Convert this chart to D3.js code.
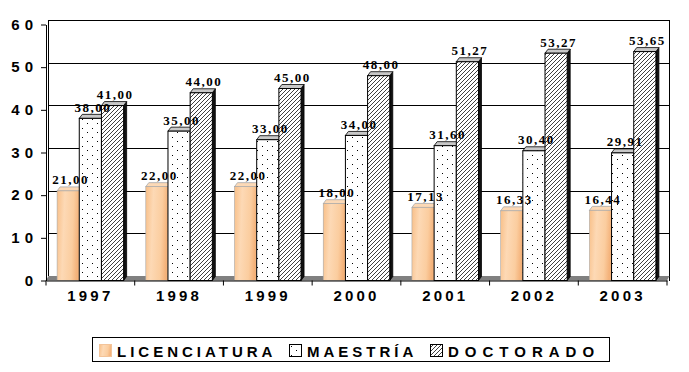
<!DOCTYPE html>
<meta charset="utf-8">
<title>Licenciatura, maestría y doctorado 1997-2003</title>
<script src="https://d3js.org/d3.v7.min.js"></script>

<style>
  body {
    margin: 0;
    background-color: #fff;
  }

  .tick-label {
    font: bold 15px "Liberation Sans", Arial, sans-serif;
    fill: #000;
  }

  .value-label {
    font: bold 13px "Liberation Serif", "Times New Roman", serif;
    letter-spacing: 1.5px;
    fill: #000;
  }

  .legend-label {
    font: bold 15px "Liberation Sans", Arial, sans-serif;
    fill: #000;
  }
</style>

<body>
  <svg width="689" height="372"></svg>
</body>

<script>
  // data
  var years = ["1997", "1998", "1999", "2000", "2001", "2002", "2003"];
  var licenciatura = [21, 22, 22, 18, 17.13, 16.33, 16.44];
  var maestria = [38, 35, 33, 34, 31.6, 30.4, 29.91];
  var doctorado = [41, 44, 45, 48, 51.27, 53.27, 53.65];
  var seriesNames = ["LICENCIATURA", "MAESTRÍA", "DOCTORADO"];
  var yTicks = [0, 10, 20, 30, 40, 50, 60];

  var series = [licenciatura, maestria, doctorado];

  var svg = d3.select("svg"),
    pLeft = 46, pRight = 667, pTop = 24.5, pBottom = 280.5,
    wallDx = 2.5, wallDy = 4.5,  // back wall offset
    barDx = 3, barDy = 4;        // bar depth

  var x = d3.scaleBand().domain(years).range([pLeft, pRight]);
  var y = d3.scaleLinear().domain([0, 60]).range([pBottom, pTop]);

  var bw = x.bandwidth() * 0.25,
    groupOff = x.bandwidth() * 0.125;

  var fmt = function (v) { return d3.format(".2f")(v).replace(".", ","); };

  // patterns & gradient
  var defs = svg.append("defs");

  var grad = defs.append("linearGradient").attr("id", "peach")
    .attr("x1", 0).attr("x2", 1).attr("y1", 0).attr("y2", 0.15);
  grad.append("stop").attr("offset", "0%").attr("stop-color", "#f8bf88");
  grad.append("stop").attr("offset", "35%").attr("stop-color", "#fdd9b5");
  grad.append("stop").attr("offset", "75%").attr("stop-color", "#fbcd9f");
  grad.append("stop").attr("offset", "100%").attr("stop-color", "#f4b27a");

  var dots = defs.append("pattern").attr("id", "dots")
    .attr("patternUnits", "userSpaceOnUse").attr("width", 10).attr("height", 9);
  dots.append("rect").attr("width", 10).attr("height", 9).attr("fill", "#fff");
  dots.append("rect").attr("x", 2).attr("y", 2).attr("width", 1).attr("height", 1).attr("fill", "#000");
  dots.append("rect").attr("x", 7).attr("y", 6).attr("width", 1).attr("height", 1).attr("fill", "#000");

  var hatch = defs.append("pattern").attr("id", "hatch")
    .attr("patternUnits", "userSpaceOnUse").attr("width", 4).attr("height", 4);
  hatch.append("rect").attr("width", 4).attr("height", 4).attr("fill", "#fff");
  hatch.append("path").attr("d", "M-1,1 l2,-2 M0,4 l4,-4 M3,5 l2,-2")
    .attr("stroke", "#000").attr("stroke-width", 0.75);

  var faces = [
    { front: "url(#peach)", cap: "#fcd9b6", side: "#f0ad78", stroke: "#a8a8a8" },
    { front: "url(#dots)", cap: "#c8c8c8", side: "#fff", stroke: "#000" },
    { front: "url(#hatch)", cap: "#c8c8c8", side: "#111", stroke: "#000" }
  ];

  // back wall gridlines
  svg.append("g").selectAll("line")
    .data(yTicks.filter(function (t) { return t > 0; }))
    .enter().append("line")
    .attr("x1", pLeft + wallDx).attr("x2", pRight + wallDx)
    .attr("y1", function (d) { return Math.round(y(d) - wallDy) + 0.5; })
    .attr("y2", function (d) { return Math.round(y(d) - wallDy) + 0.5; })
    .attr("stroke", "#000").attr("shape-rendering", "crispEdges");

  svg.append("line")
    .attr("x1", pLeft + wallDx).attr("x2", pLeft + wallDx)
    .attr("y1", pTop - wallDy).attr("y2", pBottom - wallDy)
    .attr("stroke", "#000").attr("shape-rendering", "crispEdges");
  svg.append("line")
    .attr("x1", pRight + wallDx).attr("x2", pRight + wallDx)
    .attr("y1", pTop - wallDy).attr("y2", pBottom)
    .attr("stroke", "#000").attr("shape-rendering", "crispEdges");

  // floor
  svg.append("polygon")
    .attr("points", [[pLeft, pBottom], [pLeft + wallDx, pBottom - wallDy],
    [pRight + wallDx, pBottom - wallDy], [pRight, pBottom]].join(" "))
    .attr("fill", "#808080");

  // bars
  var bars = [];
  years.forEach(function (yr, i) {
    series.forEach(function (s, k) {
      bars.push({ year: yr, k: k, value: s[i], x0: x(yr) + groupOff + k * bw });
    });
  });

  var bar = svg.append("g").selectAll("g")
    .data(bars)
    .enter().append("g");

  bar.append("polygon")
    .attr("points", function (d) {
      var x0 = d.x0 + bw, y0 = y(d.value);
      return [[x0, y0], [x0 + barDx, y0 - barDy], [x0 + barDx, pBottom - barDy], [x0, pBottom]].join(" ");
    })
    .attr("fill", function (d) { return faces[d.k].side; })
    .attr("stroke", function (d) { return faces[d.k].stroke; })
    .attr("stroke-width", 0.8);

  bar.append("polygon")
    .attr("points", function (d) {
      var y0 = y(d.value);
      return [[d.x0, y0], [d.x0 + barDx, y0 - barDy], [d.x0 + bw + barDx, y0 - barDy], [d.x0 + bw, y0]].join(" ");
    })
    .attr("fill", function (d) { return faces[d.k].cap; })
    .attr("stroke", function (d) { return faces[d.k].stroke; })
    .attr("stroke-width", 0.8);

  bar.append("rect")
    .attr("x", function (d) { return d.x0; })
    .attr("y", function (d) { return y(d.value); })
    .attr("width", bw)
    .attr("height", function (d) { return pBottom - y(d.value); })
    .attr("fill", function (d) { return faces[d.k].front; })
    .attr("stroke", function (d) { return faces[d.k].stroke; })
    .attr("stroke-width", function (d) { return d.k === 0 ? 0.6 : 1; });

  // axes
  var yAxis = svg.append("g")
    .attr("transform", "translate(" + pLeft + ",0)")
    .call(d3.axisLeft(y).tickValues(yTicks).tickSize(5).tickSizeOuter(0).tickPadding(3)
      .tickFormat(d3.format("d")));
  yAxis.selectAll("text").attr("class", "tick-label").style("letter-spacing", "5px");
  yAxis.selectAll("line,path").attr("stroke", "#000");
  yAxis.attr("font-size", null).attr("font-family", null);

  var xAxis = svg.append("g")
    .attr("transform", "translate(0," + pBottom + ")")
    .call(d3.axisBottom(x).tickSize(0).tickPadding(10).tickSizeOuter(0));
  xAxis.selectAll("text").attr("class", "tick-label").style("letter-spacing", "3.2px");
  xAxis.selectAll("path").attr("stroke", "#000");
  xAxis.attr("font-size", null).attr("font-family", null);

  xAxis.selectAll(".bound")
    .data(years.map(function (d) { return x(d); }).concat([pRight]))
    .enter().append("line")
    .attr("x1", function (d) { return d; }).attr("x2", function (d) { return d; })
    .attr("y1", 0).attr("y2", 5)
    .attr("stroke", "#000");

  // value labels
  svg.append("g").selectAll("text")
    .data(bars)
    .enter().append("text")
    .attr("class", "value-label")
    .attr("text-anchor", "middle")
    .attr("x", function (d) { return d.x0 + bw / 2 + barDx / 2 + 1; })
    .attr("y", function (d) { return y(d.value) - 6.5; })
    .text(function (d) { return fmt(d.value); });

  // legend
  var legend = svg.append("g");
  legend.append("rect")
    .attr("x", 92.5).attr("y", 337.5).attr("width", 517).attr("height", 24)
    .attr("fill", "#fff").attr("stroke", "#000");

  var legX = [99, 289, 430],
    legSpacing = [4, 4, 6];
  var item = legend.selectAll("g")
    .data(seriesNames)
    .enter().append("g")
    .attr("transform", function (d, i) { return "translate(" + legX[i] + ",344)"; });

  item.append("rect")
    .attr("x", 0.5).attr("y", 0.5).attr("width", 12).attr("height", 12)
    .attr("fill", function (d, i) { return faces[i].front; })
    .attr("stroke", function (d, i) { return i === 0 ? "#f3c49a" : "#000"; });

  item.append("text")
    .attr("class", "legend-label")
    .attr("x", 18).attr("y", 12.5)
    .style("letter-spacing", function (d, i) { return legSpacing[i] + "px"; })
    .text(function (d) { return d; });
</script>
